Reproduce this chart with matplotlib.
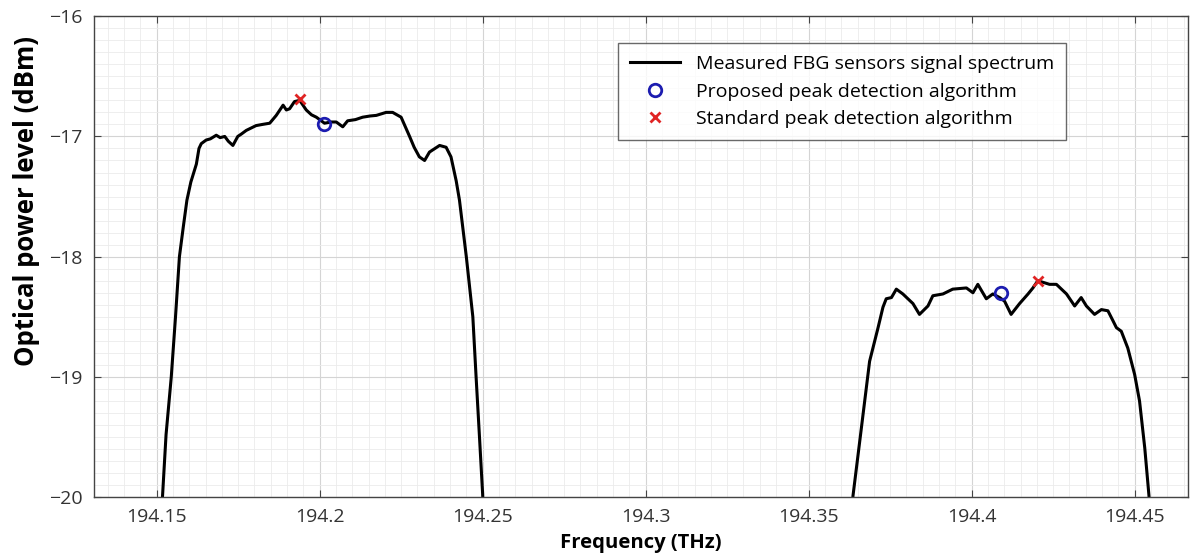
import numpy as np
import matplotlib.pyplot as plt
from matplotlib.ticker import AutoMinorLocator

# spectrum (THz, dBm)
freq1 = [194.1510, 194.1518, 194.1529, 194.1545, 194.1558, 194.1570, 194.1582, 194.1593,
         194.1605, 194.1622, 194.1630, 194.1637, 194.1652, 194.1665, 194.1683, 194.1695,
         194.1709, 194.1720, 194.1734, 194.1749, 194.1760, 194.1775, 194.1790, 194.1805,
         194.1825, 194.1847, 194.1867, 194.1888, 194.1898, 194.1908, 194.1923, 194.1939,
         194.1959, 194.1975, 194.1990, 194.2015, 194.2035, 194.2051, 194.2071, 194.2086,
         194.2110, 194.2132, 194.2155, 194.2174, 194.2204, 194.2224, 194.2250, 194.2263,
         194.2276, 194.2290, 194.2306, 194.2322, 194.2337, 194.2368, 194.2388, 194.2403,
         194.2419, 194.2429, 194.2450, 194.2470, 194.2480, 194.2490, 194.2500, 194.2505]
power1 = [-20.3, -20.0, -19.48, -19.0, -18.5, -18.0, -17.75, -17.53,
          -17.38, -17.23, -17.10, -17.06, -17.03, -17.02, -16.99, -17.01,
          -17.00, -17.04, -17.075, -17.00, -16.98, -16.95, -16.93, -16.91,
          -16.90, -16.89, -16.825, -16.74, -16.78, -16.77, -16.71, -16.70,
          -16.78, -16.82, -16.84, -16.89, -16.88, -16.88, -16.92, -16.87,
          -16.86, -16.84, -16.83, -16.825, -16.80, -16.80, -16.84, -16.92,
          -17.00, -17.09, -17.17, -17.20, -17.13, -17.075, -17.09, -17.17,
          -17.37, -17.53, -18.0, -18.5, -19.0, -19.48, -19.97, -20.3]

freq2 = [194.3630, 194.3636, 194.3662, 194.3687, 194.3713, 194.3728, 194.3738, 194.3754,
         194.3769, 194.3789, 194.3820, 194.3840, 194.3866, 194.3881, 194.3912, 194.3942,
         194.3984, 194.4004, 194.4019, 194.4045, 194.4065, 194.4086, 194.4101, 194.4121,
         194.4147, 194.4173, 194.4188, 194.4203, 194.4239, 194.4260, 194.4291, 194.4316,
         194.4336, 194.4352, 194.4377, 194.4398, 194.4418, 194.4433, 194.4444, 194.4459,
         194.4479, 194.4500, 194.4515, 194.4531, 194.4544, 194.4550]
power2 = [-20.3, -19.99, -19.42, -18.87, -18.59, -18.42, -18.35, -18.34,
          -18.27, -18.31, -18.39, -18.48, -18.41, -18.325, -18.31, -18.27,
          -18.26, -18.30, -18.23, -18.35, -18.31, -18.34, -18.37, -18.48,
          -18.39, -18.31, -18.26, -18.20, -18.23, -18.23, -18.31, -18.41,
          -18.34, -18.41, -18.48, -18.44, -18.45, -18.53, -18.59, -18.62,
          -18.76, -18.98, -19.2, -19.59, -19.99, -20.3]

proposed_f = [194.2015, 194.4091]
proposed_p = [-16.90, -18.30]
standard_f = [194.1939, 194.4203]
standard_p = [-16.69, -18.20]

xticks = [194.15, 194.2, 194.25, 194.3, 194.35, 194.4, 194.45]
xticklabels = ['194.15', '194.2', '194.25', '194.3', '194.35', '194.4', '194.45']
yticks = [-20, -19, -18, -17, -16]

plt.rcParams['font.family'] = ['Open Sans', 'DejaVu Sans']

fig = plt.figure(figsize=(12.01, 5.58), dpi=100)
ax = fig.add_axes([0.078, 0.109, 0.911, 0.862])

ax.plot(freq1, power1, color='black', lw=2.2, label='Measured FBG sensors signal spectrum')
ax.plot(freq2, power2, color='black', lw=2.2)
ax.plot(proposed_f, proposed_p, 'o', mfc='none', mec='#1c1cb0', mew=2, ms=9,
        label='Proposed peak detection algorithm')
ax.plot(standard_f, standard_p, 'x', color='#e02424', mew=2, ms=7,
        label='Standard peak detection algorithm')

ax.set_xlim(194.1307, 194.4663)
ax.set_ylim(-20, -16)
ax.set_xticks(xticks)
ax.set_xticklabels(xticklabels)
ax.set_yticks(yticks)
ax.xaxis.set_minor_locator(AutoMinorLocator(10))
ax.yaxis.set_minor_locator(AutoMinorLocator(10))
ax.grid(which='major', color='#d4d4d4', lw=0.8)
ax.grid(which='minor', color='#ebebeb', lw=0.6)
ax.set_axisbelow(True)
ax.tick_params(which='major', direction='in', length=5, top=True, right=True,
               labelsize=14, labelcolor='#333333', color='#444444', pad=8)
ax.tick_params(which='minor', length=0)
for s in ax.spines.values():
    s.set_color('#444444')
    s.set_linewidth(1.0)

ax.set_xlabel('Frequency (THz)', fontsize=14.6, fontweight='bold', labelpad=5)
ax.set_ylabel('Optical power level (dBm)', fontsize=18.5, fontweight='bold', labelpad=8)
ax.yaxis.set_label_coords(-0.049, 0.615)

leg = ax.legend(loc='upper left', bbox_to_anchor=(0.479, 0.944), borderaxespad=0,
                fontsize=14, frameon=True, fancybox=False, edgecolor='#444444',
                handlelength=2.6, labelspacing=0.48, borderpad=0.62)
leg.get_frame().set_linewidth(1.0)

fig.savefig('out.png', dpi=100)
